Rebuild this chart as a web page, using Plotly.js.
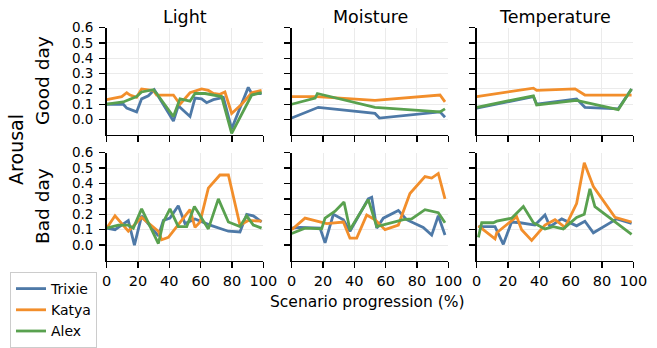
<!DOCTYPE html>
<html><head><meta charset="utf-8">
<script src="https://cdn.plot.ly/plotly-3.0.1.min.js"></script>
<style>html,body{margin:0;padding:0;background:#fff}#c{width:657px;height:348px}</style>
</head><body><div id="c"></div>
<script>
const people = ["Trixie", "Katya", "Alex"];
const colors = ["#4E79A7", "#F28E2B", "#59A14F"];
const columns = ["Light", "Moisture", "Temperature"];
const rows = ["Good day", "Bad day"];
const xTicks = [0, 20, 40, 60, 80, 100];
const yTicks = [0, 0.1, 0.2, 0.3, 0.4, 0.5, 0.6];

// Light, Good day
const lightGoodTrixieX = [0,10.6,12.8,19.1,22.3,26.6,30.4,42.6,45.7,53.2,56.4,60.6,63.8,68.1,74.5,79.8,90.4,92.6,98.9];
const lightGoodTrixieY = [0.10,0.10,0.075,0.05,0.135,0.155,0.195,-0.01,0.09,0.02,0.14,0.135,0.11,0.13,0.145,-0.06,0.21,0.17,0.17];
const lightGoodKatyaX = [0,9.6,12.8,14.9,19.1,22.3,29.8,31.9,42.6,46.8,53.2,60.6,64.9,68.1,72.3,75.5,79.8,86.2,92.6,98.9];
const lightGoodKatyaY = [0.13,0.15,0.175,0.16,0.145,0.20,0.19,0.16,0.16,0.10,0.175,0.20,0.19,0.17,0.165,0.18,0.04,0.10,0.175,0.19];
const lightGoodAlexX = [0,10.6,19.1,22.3,29.8,31.9,42.6,46.8,53.2,56.4,62.8,73.4,79.8,92.6,98.9];
const lightGoodAlexY = [0.10,0.115,0.15,0.18,0.195,0.17,0.02,0.135,0.12,0.17,0.17,0.15,-0.09,0.16,0.175];

// Moisture, Good day
const moistGoodTrixieX = [0,17,53.2,56,94.7,97.9];
const moistGoodTrixieY = [0.01,0.08,0.04,0.01,0.05,0.015];
const moistGoodKatyaX = [0,16,53.2,94.7,97.9];
const moistGoodKatyaY = [0.15,0.15,0.125,0.16,0.115];
const moistGoodAlexX = [0,15,16.4,53.2,94.7,97.9];
const moistGoodAlexY = [0.10,0.14,0.17,0.08,0.05,0.07];

// Temperature, Good day
const tempGoodTrixieX = [0,36.2,38.3,63.8,69.1,90.4,98.9];
const tempGoodTrixieY = [0.075,0.15,0.10,0.135,0.08,0.07,0.20];
const tempGoodKatyaX = [0,36.2,38.3,62.8,69.1,98.9];
const tempGoodKatyaY = [0.15,0.205,0.19,0.20,0.16,0.16];
const tempGoodAlexX = [0,36.2,38.3,63.8,90.4,98.9];
const tempGoodAlexY = [0.08,0.155,0.095,0.125,0.065,0.20];

// Light, Bad day
const lightBadTrixieX = [0,5.3,13.8,17.7,22.3,33,36.2,40.4,45.7,50,56.4,66,77.7,85.1,89.4,93.6,98.9];
const lightBadTrixieY = [0.11,0.10,0.16,0.0,0.19,0.06,0.16,0.175,0.255,0.14,0.17,0.13,0.09,0.085,0.20,0.19,0.15];
const lightBadKatyaX = [0,5.3,13.8,22.3,33,35.1,39.4,53.2,56.4,59.6,64.9,72.3,77.7,85.1,90.4,98.9];
const lightBadKatyaY = [0.11,0.19,0.09,0.18,0.09,0.035,0.05,0.23,0.115,0.15,0.37,0.455,0.455,0.13,0.16,0.155];
const lightBadAlexX = [0,7.4,13.8,17,22.3,33,36.2,40.4,45.7,51.1,56,64.9,71.3,77.7,85.1,89.4,93.6,98.9];
const lightBadAlexY = [0.11,0.13,0.13,0.11,0.235,0.01,0.15,0.235,0.12,0.12,0.25,0.105,0.30,0.15,0.12,0.19,0.13,0.11];

// Moisture, Bad day
const moistBadTrixieX = [0,5.3,18.1,21.3,26.6,33,37.2,48.9,51.1,54.3,58.5,68.1,73.4,84,89.4,93.6,97.9];
const moistBadTrixieY = [0.11,0.115,0.11,0.015,0.20,0.165,0.09,0.30,0.31,0.11,0.175,0.225,0.165,0.115,0.065,0.19,0.065];
const moistBadKatyaX = [0,8.5,22.3,33,37.2,41.5,47.9,53.2,59.6,68.1,75.5,85.1,89.4,93.6,97.9];
const moistBadKatyaY = [0.10,0.175,0.14,0.15,0.045,0.045,0.195,0.165,0.10,0.13,0.335,0.445,0.435,0.465,0.30];
const moistBadAlexX = [0,8.5,19.1,21.3,27.7,33.4,37.2,48.9,54.3,60.6,71.3,76.6,85.1,93.6,97.9];
const moistBadAlexY = [0.075,0.11,0.105,0.175,0.22,0.28,0.10,0.295,0.12,0.135,0.165,0.17,0.23,0.21,0.145];

// Temperature, Bad day
const tempBadTrixieX = [1.1,11.7,17,22.3,27.7,37.2,43.6,46.8,54.3,63.8,69.1,74.5,89.4,98.9];
const tempBadTrixieY = [0.12,0.12,0.005,0.15,0.145,0.13,0.195,0.12,0.17,0.125,0.155,0.08,0.17,0.14];
const tempBadKatyaX = [1.1,11.7,12.8,25.5,28.7,35.1,43.6,50,56.4,63.8,68.7,74.5,88.3,98.9];
const tempBadKatyaY = [0.125,0.04,0.08,0.185,0.10,0.03,0.13,0.165,0.115,0.27,0.535,0.38,0.18,0.15];
const tempBadAlexX = [1.1,3.2,10.6,12.8,22.3,29.8,36.2,43.6,48.9,55.3,63.8,68.7,72.3,75.5,98.9];
const tempBadAlexY = [0.05,0.145,0.145,0.155,0.175,0.25,0.145,0.105,0.12,0.105,0.18,0.20,0.365,0.25,0.07];

const panels = [
  [[lightGoodTrixieX,lightGoodTrixieY],[lightGoodKatyaX,lightGoodKatyaY],[lightGoodAlexX,lightGoodAlexY]],
  [[moistGoodTrixieX,moistGoodTrixieY],[moistGoodKatyaX,moistGoodKatyaY],[moistGoodAlexX,moistGoodAlexY]],
  [[tempGoodTrixieX,tempGoodTrixieY],[tempGoodKatyaX,tempGoodKatyaY],[tempGoodAlexX,tempGoodAlexY]],
  [[lightBadTrixieX,lightBadTrixieY],[lightBadKatyaX,lightBadKatyaY],[lightBadAlexX,lightBadAlexY]],
  [[moistBadTrixieX,moistBadTrixieY],[moistBadKatyaX,moistBadKatyaY],[moistBadAlexX,moistBadAlexY]],
  [[tempBadTrixieX,tempBadTrixieY],[tempBadKatyaX,tempBadKatyaY],[tempBadAlexX,tempBadAlexY]]
];

const W = 657, H = 348;
const colPx = [[106.7,263.3],[291.7,448.3],[476.7,633.3]];
const rowPx = [[30,146.7],[166,283.3]];
const FONT = "DejaVu Sans, sans-serif";

const traces = [];
const layout = {
  width: W, height: H, margin: {l:0,r:0,t:0,b:0},
  paper_bgcolor: "#fff", plot_bgcolor: "#fff",
  font: {family: FONT, size: 14, color: "#000"},
  showlegend: true,
  legend: {x: 10/W, y: (H-296)/H, xanchor: "left", yanchor: "top",
    bgcolor: "rgba(255,255,255,0.9)", bordercolor: "#cccccc", borderwidth: 1,
    font: {family: FONT, size: 14}, tracegroupgap: 0, itemwidth: 30},
  annotations: []
};

panels.forEach((series, p) => {
  const r = Math.floor(p/3), c = p % 3;
  const idx = p + 1;
  const xa = idx === 1 ? "x" : "x" + idx;
  const ya = idx === 1 ? "y" : "y" + idx;
  series.forEach((s, k) => {
    traces.push({x: s[0], y: s[1], type: "scatter", mode: "lines", name: people[k],
      xaxis: xa, yaxis: ya, line: {color: colors[k], width: 2.8},
      showlegend: p === 0, legendgroup: people[k]});
  });
  const xk = idx === 1 ? "xaxis" : "xaxis" + idx;
  const yk = idx === 1 ? "yaxis" : "yaxis" + idx;
  layout[xk] = {domain: [colPx[c][0]/W, colPx[c][1]/W], anchor: ya, range: [0,100],
    tickvals: xTicks, showticklabels: r === 1, ticks: "outside", ticklen: 6, tickwidth: 1.3, tickcolor: "#000",
    showline: true, linecolor: "#000", linewidth: 1.6, mirror: false,
    showgrid: true, gridcolor: "#ebebeb", gridwidth: 1, zeroline: false,
    tickfont: {family: FONT, size: 14.5}, fixedrange: true};
  layout[yk] = {domain: [(H-rowPx[r][1])/H, (H-rowPx[r][0])/H], anchor: xa, range: [-0.1,0.6],
    tickvals: yTicks, tickformat: ".1f", showticklabels: c === 0, ticks: "outside", ticklen: 6, tickwidth: 1.3, tickcolor: "#000",
    showline: true, linecolor: "#000", linewidth: 1.6, mirror: false,
    showgrid: true, gridcolor: "#ebebeb", gridwidth: 1, zeroline: false,
    tickfont: {family: FONT, size: 13.5}, ticklabelstandoff: 3, fixedrange: true};
});

function ann(text, px, py, size, angle) {
  layout.annotations.push({text: text, xref: "paper", yref: "paper", x: px/W, y: (H-py)/H,
    xanchor: "center", yanchor: "middle", showarrow: false, textangle: angle || 0,
    font: {family: FONT, size: size, color: "#000"}});
}
ann(columns[0], 185, 18, 17.5);
ann(columns[1], 370, 18, 17.5);
ann(columns[2], 555, 18, 17.5);
ann(rows[0], 43, 88, 18.5, -90);
ann(rows[1], 43, 224, 18.5, -90);
ann("Arousal", 16, 163, 19, -90);
ann("Scenario progression (%)", 367, 328, 15.5);

Plotly.newPlot("c", traces, layout, {displayModeBar: false, staticPlot: true});
</script></body></html>
